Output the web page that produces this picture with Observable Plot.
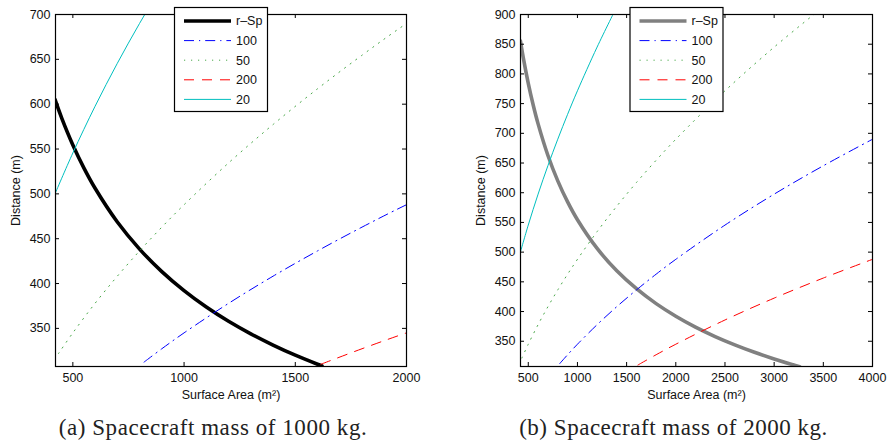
<!DOCTYPE html>
<html><head><meta charset="utf-8">
<script src="https://cdn.jsdelivr.net/npm/d3@7"></script>
<script src="https://cdn.jsdelivr.net/npm/@observablehq/plot@0.6"></script>
<style>
body{margin:0;background:#fff;}
#wrap{display:flex;width:887px;height:444px;overflow:hidden;}
.panel{position:relative;height:444px;}
.cap{position:absolute;top:415px;left:0;font-family:"Liberation Serif",serif;font-size:23px;line-height:26px;text-align:center;white-space:nowrap;color:#222;}
.cap span{display:inline-block;}
</style></head><body>
<div id="wrap"><div class="panel" id="pa" style="width:440px"></div><div class="panel" id="pb" style="width:447px"></div></div>
<script>
// ---- data ----
// r–Sp curve, spacecraft mass 1000 kg
const rSpAreaA = [420, 450, 500, 550, 600, 700, 800, 900, 1000, 1100, 1200, 1300, 1400, 1500, 1600, 1620];
const rSpDistA = [605.0, 584.5, 554.5, 528.7, 506.2, 468.6, 438.4, 413.3, 392.1, 373.8, 357.9, 343.9, 331.4, 320.1, 310.0, 308.1];
// r–Sp curve, spacecraft mass 2000 kg
const rSpAreaB = [420, 450, 500, 550, 600, 700, 800, 900, 1000, 1200, 1400, 1600, 1800, 2000, 2200, 2400, 2600, 2800, 3000, 3200, 3260];
const rSpDistB = [855.6, 826.6, 784.2, 747.7, 715.9, 662.7, 620.0, 584.5, 554.5, 506.2, 468.6, 438.4, 413.3, 392.1, 373.8, 357.9, 343.9, 331.4, 320.1, 310.0, 307.1];
// curves labelled 100, 50, 200, 20 (same in both panels)
const area100 = [820, 900, 1000, 1200, 1400, 1600, 1800, 2000, 2500, 3000, 3500, 4000];
const dist100 = [312.4, 327.3, 345.0, 377.9, 408.2, 436.4, 462.9, 487.9, 545.5, 597.6, 645.4, 690.0];
const area50 = [435, 500, 600, 700, 800, 900, 1000, 1200, 1400, 1600, 1800, 2000, 2500, 3000, 3500];
const dist50 = [321.8, 345.0, 378.0, 408.2, 436.4, 462.9, 487.9, 534.5, 577.3, 617.2, 654.6, 690.0, 771.5, 845.1, 912.9];
const area200 = [1615, 1800, 2000, 2500, 3000, 3500, 4000];
const dist200 = [310.0, 327.3, 345.0, 385.8, 422.6, 456.4, 487.9];
const area20 = [420, 500, 600, 700, 800, 900, 1000, 1200, 1400];
const dist20 = [500.1, 545.6, 597.7, 645.6, 690.1, 732.0, 771.6, 845.2, 913.0];
// legend labels and tick values
const legendLabels = ["r–Sp", "100", "50", "200", "20"];
const xTicksA = [500, 1000, 1500, 2000];
const yTicksA = [350, 400, 450, 500, 550, 600, 650, 700];
const xTicksB = [500, 1000, 1500, 2000, 2500, 3000, 3500, 4000];
const yTicksB = [350, 400, 450, 500, 550, 600, 650, 700, 750, 800, 850, 900];
const captions = ["(a) Spacecraft mass of 1000 kg.", "(b) Spacecraft mass of 2000 kg."];

const rows = (xs, ys) => xs.map((v, i) => ({a: v, d: ys[i]}));
const FS = 12.5;

function makePanel(el, {width, marginLeft, marginRight, xDomain, yDomain, xTicks, yTicks, rArea, rDist, rColor, legendX, caption, capCenter}) {
  const height = 410, marginTop = 14, marginBottom = 44;
  const IW = width - marginLeft - marginRight, IH = height - marginTop - marginBottom;
  const series = [
    {label: legendLabels[0], data: rows(rArea, rDist), stroke: rColor, w: 3.6, dash: null},
    {label: legendLabels[1], data: rows(area100, dist100), stroke: "#0000ff", w: 1, dash: "10,5,1.2,5"},
    {label: legendLabels[2], data: rows(area50, dist50), stroke: "#4aa84a", w: 1, dash: "1.2,5.8"},
    {label: legendLabels[3], data: rows(area200, dist200), stroke: "#ff0000", w: 1, dash: "10,8"},
    {label: legendLabels[4], data: rows(area20, dist20), stroke: "#00bfbf", w: 1, dash: null}
  ];
  const svg = Plot.plot({
    width, height, marginLeft, marginRight, marginTop, marginBottom,
    style: {fontFamily: "'Liberation Sans', Arial, sans-serif", fontSize: FS + "px", background: "white", color: "#111"},
    x: {domain: xDomain, axis: null},
    y: {domain: yDomain, axis: null},
    marks: [
      ...series.map(s => Plot.line(s.data, {x: "a", y: "d", stroke: s.stroke, strokeWidth: s.w, strokeDasharray: s.dash, curve: "catmull-rom", clip: true})),
      Plot.axisX({ticks: xTicks, tickFormat: "d", tickSize: 0, tickPadding: 7, label: null, fontSize: FS}),
      Plot.axisY({ticks: yTicks, tickFormat: "d", tickSize: 0, tickPadding: 5, label: null, fontSize: FS}),
      Plot.tickX(xTicks, {x: d => d, insetTop: IH - 4, stroke: "black"}),
      Plot.tickX(xTicks, {x: d => d, insetBottom: IH - 4, stroke: "black"}),
      Plot.tickY(yTicks, {y: d => d, insetRight: IW - 4, stroke: "black"}),
      Plot.tickY(yTicks, {y: d => d, insetLeft: IW - 4, stroke: "black"}),
      Plot.frame({stroke: "black", strokeWidth: 1.2}),
      Plot.text(["Surface Area (m²)"], {frameAnchor: "bottom", dy: 32, text: d => d, fontSize: FS, textAnchor: "middle"}),
      Plot.text(["Distance (m)"], {frameAnchor: "left", dx: -40, rotate: -90, text: d => d, fontSize: FS, textAnchor: "middle"})
    ]
  });
  const g = d3.select(svg).append("g");
  g.append("rect").attr("x", legendX).attr("y", 7.5).attr("width", 93).attr("height", 104)
    .attr("fill", "white").attr("stroke", "black").attr("stroke-width", 1.2);
  series.forEach((s, i) => {
    const y = 21 + i * 19.6;
    g.append("line").attr("x1", legendX + 9.5).attr("x2", legendX + 56.5).attr("y1", y).attr("y2", y)
      .attr("stroke", s.stroke).attr("stroke-width", s.w).attr("stroke-dasharray", s.dash);
    g.append("text").attr("x", legendX + 61.5).attr("y", y).attr("dy", "0.35em")
      .attr("text-anchor", "start").attr("font-size", FS).attr("fill", "#111").text(s.label);
  });
  el.appendChild(svg);
  const cap = document.createElement("div");
  cap.className = "cap";
  cap.style.width = (2 * capCenter) + "px";
  const span = document.createElement("span");
  span.textContent = caption;
  cap.appendChild(span);
  el.appendChild(cap);
  const w = span.getBoundingClientRect().width;
  span.style.letterSpacing = ((308 - w) / (caption.length - 1)).toFixed(2) + "px";
}

makePanel(document.getElementById("pa"), {
  width: 440, marginLeft: 55, marginRight: 34, xDomain: [422, 2000], yDomain: [307.5, 700],
  xTicks: xTicksA, yTicks: yTicksA, rArea: rSpAreaA, rDist: rSpDistA, rColor: "#000000",
  legendX: 174.5, caption: captions[0], capCenter: 213
});
makePanel(document.getElementById("pb"), {
  width: 447, marginLeft: 80, marginRight: 15, xDomain: [421, 4000], yDomain: [307.5, 900],
  xTicks: xTicksB, yTicks: yTicksB, rArea: rSpAreaB, rDist: rSpDistB, rColor: "#808080",
  legendX: 190, caption: captions[1], capCenter: 233.5
});
</script>
</body></html>
